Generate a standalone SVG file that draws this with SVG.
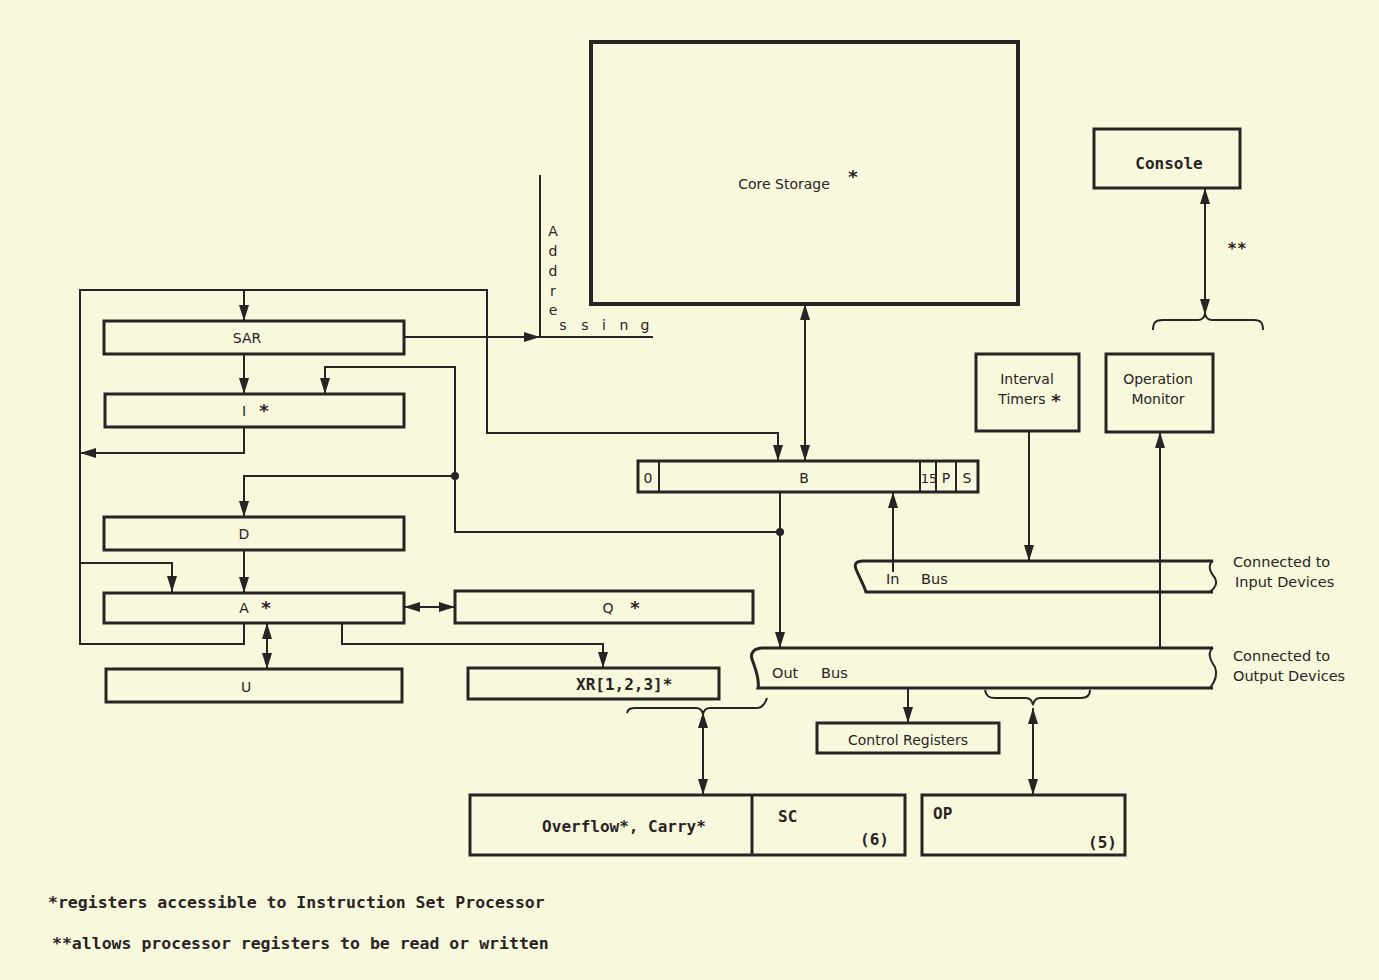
<svg xmlns="http://www.w3.org/2000/svg" width="1379" height="980" viewBox="0 0 1379 980">
<style>
.box{fill:none;stroke:#2a2326;stroke-width:3}
.thick{fill:none;stroke:#2a2326;stroke-width:4}
.ln{fill:none;stroke:#2a2326;stroke-width:2}
.lbl{font-family:"DejaVu Sans",sans-serif;font-size:14px;fill:#2a2326;text-anchor:middle}
.lbl-l{font-family:"DejaVu Sans",sans-serif;font-size:14.5px;fill:#2a2326}
.star{font-family:"DejaVu Sans",sans-serif;font-size:18px;font-weight:bold;fill:#2a2326;text-anchor:middle}
.mono{font-family:"DejaVu Sans Mono","Liberation Mono",monospace;font-size:16px;font-weight:bold;fill:#2a2326}
.foot{font-family:"DejaVu Sans Mono","Liberation Mono",monospace;font-size:16.5px;font-weight:bold;fill:#2a2326}
</style>
<defs>
<marker id="ah" viewBox="0 0 16 10" refX="16" refY="5" markerWidth="16" markerHeight="10" markerUnits="userSpaceOnUse" orient="auto-start-reverse">
<path d="M0,0 L16,5 L0,10 z" fill="#2a2326"/>
</marker>
</defs>
<rect x="0" y="0" width="1379" height="980" fill="#f8f8dc"/>

<g id="connectors">
<path class="ln" d="M244,623 V644 H80 V290 H487 V433 H778 V461" marker-end="url(#ah)"/>
<path class="ln" d="M244,290 V321" marker-end="url(#ah)"/>
<path class="ln" d="M80,563 H172 V592" marker-end="url(#ah)"/>
<path class="ln" d="M244,354 V394" marker-end="url(#ah)"/>
<path class="ln" d="M244,427 V453 H80" marker-end="url(#ah)"/>
<path class="ln" d="M780,532 H455 V367 H325 V394" marker-end="url(#ah)"/>
<path class="ln" d="M455,476 H244 V517" marker-end="url(#ah)"/>
<circle cx="455" cy="476" r="4" fill="#2a2326"/>
<circle cx="780" cy="532" r="4" fill="#2a2326"/>
<path class="ln" d="M244,550 V593" marker-end="url(#ah)"/>
<path class="ln" d="M404,607 H455" marker-start="url(#ah)" marker-end="url(#ah)"/>
<path class="ln" d="M267,623 V669" marker-start="url(#ah)" marker-end="url(#ah)"/>
<path class="ln" d="M342,623 V644 H603 V668" marker-end="url(#ah)"/>
<path class="ln" d="M404,337 H540" marker-end="url(#ah)"/>
<path class="ln" d="M540,175 V337 H653"/>
<path class="ln" d="M805,304 V461" marker-start="url(#ah)" marker-end="url(#ah)"/>
<path class="ln" d="M780,492 V648" marker-end="url(#ah)"/>
<path class="ln" d="M893,572 V492" marker-end="url(#ah)"/>
<path class="ln" d="M1029,431 V561" marker-end="url(#ah)"/>
<path class="ln" d="M1160,648 V432" marker-end="url(#ah)"/>
<path class="ln" d="M1205,188 V315" marker-start="url(#ah)" marker-end="url(#ah)"/>
<path class="ln" d="M908,688 V723" marker-end="url(#ah)"/>
<path class="ln" d="M1033,708 V795" marker-start="url(#ah)" marker-end="url(#ah)"/>
<path class="ln" d="M703,712 V795" marker-start="url(#ah)" marker-end="url(#ah)"/>
<path class="ln" d="M1153,330 C1153,322 1156,320 1163,320 H1198 C1202,320 1204,318 1205,314 C1206,318 1208,320 1212,320 H1254 C1261,320 1263,323 1263,330"/>
<path class="ln" d="M985,690 C986,696 989,698 995,698 H1026 C1030,698 1032,700 1033,705 C1034,700 1036,698 1040,698 H1081 C1087,698 1090,695 1090,690"/>
<path class="ln" d="M627,713 C628,709 630,708 636,708 H696 C700,708 702,710 703,714 C704,710 706,708 710,708 H757 C762,708 765,704 767,698"/>
</g>

<g id="core-storage">
<rect class="thick" x="591" y="42" width="427" height="262"/>
<text class="lbl" x="784" y="189">Core Storage</text>
<text class="star" x="853" y="183">*</text>
</g>

<g id="addressing">
<text class="lbl" x="553" y="236">A</text>
<text class="lbl" x="553" y="256">d</text>
<text class="lbl" x="553" y="276">d</text>
<text class="lbl" x="553" y="296">r</text>
<text class="lbl" x="553" y="315">e</text>
<text class="lbl" x="563" y="330">s</text>
<text class="lbl" x="585" y="330">s</text>
<text class="lbl" x="604" y="330">i</text>
<text class="lbl" x="624" y="330">n</text>
<text class="lbl" x="645" y="330">g</text>
</g>

<g id="sar">
<rect class="box" x="104" y="321" width="300" height="33"/>
<text class="lbl" x="247" y="343">SAR</text>
</g>
<g id="i-reg">
<rect class="box" x="105" y="394" width="299" height="33"/>
<text class="lbl" x="244" y="416">I</text>
<text class="star" x="264" y="417">*</text>
</g>
<g id="d-reg">
<rect class="box" x="104" y="517" width="300" height="33"/>
<text class="lbl" x="244" y="539">D</text>
</g>
<g id="a-reg">
<rect class="box" x="104" y="593" width="300" height="30"/>
<text class="lbl" x="244" y="613">A</text>
<text class="star" x="266" y="614">*</text>
</g>
<g id="u-reg">
<rect class="box" x="106" y="669" width="296" height="33"/>
<text class="lbl" x="246" y="692">U</text>
</g>
<g id="q-reg">
<rect class="box" x="455" y="591" width="298" height="32"/>
<text class="lbl" x="608" y="613">Q</text>
<text class="star" x="635" y="614">*</text>
</g>
<g id="xr-reg">
<rect class="box" x="468" y="668" width="251" height="31"/>
<text class="mono" x="576" y="690">XR[1,2,3]*</text>
</g>

<g id="b-reg">
<rect class="box" x="638" y="461" width="340" height="31"/>
<line class="ln" x1="659" y1="461" x2="659" y2="492"/>
<line class="ln" x1="920" y1="461" x2="920" y2="492"/>
<line class="ln" x1="936" y1="461" x2="936" y2="492"/>
<line class="ln" x1="956" y1="461" x2="956" y2="492"/>
<text class="lbl" x="648" y="483">0</text>
<text class="lbl" x="804" y="483">B</text>
<text class="lbl" x="929" y="483" style="font-size:13px">15</text>
<text class="lbl" x="946" y="483">P</text>
<text class="lbl" x="967" y="483">S</text>
</g>

<g id="in-bus">
<path class="box" d="M1213,561 H863 C856,561 854,564 856,569 C859,577 864,585 866,592 H1213"/>
<path class="ln" d="M1213,561 C1207,565 1210,572 1215,578 C1218,584 1214,589 1210,592"/>
<text class="lbl-l" x="886" y="584">In</text>
<text class="lbl-l" x="921" y="584">Bus</text>
</g>
<g id="out-bus">
<path class="box" d="M1213,648 H763 C754,648 750,653 752,659 C755,668 760,679 758,688 H1213"/>
<path class="ln" d="M1213,648 C1207,652 1210,660 1215,667 C1218,675 1214,683 1210,688"/>
<text class="lbl-l" x="772" y="678">Out</text>
<text class="lbl-l" x="821" y="678">Bus</text>
</g>
<g id="in-label">
<text class="lbl-l" x="1233" y="567">Connected to</text>
<text class="lbl-l" x="1235" y="587">Input Devices</text>
</g>
<g id="out-label">
<text class="lbl-l" x="1233" y="661">Connected to</text>
<text class="lbl-l" x="1233" y="681">Output Devices</text>
</g>

<g id="interval-timers">
<rect class="box" x="976" y="354" width="103" height="77"/>
<text class="lbl" x="1027" y="384">Interval</text>
<text class="lbl" x="1022" y="404">Timers</text>
<text class="star" x="1056" y="407">*</text>
</g>
<g id="operation-monitor">
<rect class="box" x="1106" y="354" width="107" height="78"/>
<text class="lbl" x="1158" y="384">Operation</text>
<text class="lbl" x="1158" y="404">Monitor</text>
</g>
<g id="console">
<rect class="box" x="1094" y="129" width="146" height="59"/>
<text class="mono" x="1169" y="169" text-anchor="middle">Console</text>
<text class="mono" x="1237" y="254" text-anchor="middle">**</text>
</g>

<g id="control-registers">
<rect class="box" x="817" y="723" width="182" height="30"/>
<text class="lbl" x="908" y="745">Control Registers</text>
</g>

<g id="overflow-sc">
<rect class="box" x="470" y="795" width="435" height="60"/>
<line class="box" x1="752" y1="795" x2="752" y2="855"/>
<text class="mono" x="624" y="832" text-anchor="middle">Overflow*, Carry*</text>
<text class="mono" x="778" y="822">SC</text>
<text class="mono" x="860" y="845">(6)</text>
</g>
<g id="op">
<rect class="box" x="922" y="795" width="203" height="60"/>
<text class="mono" x="933" y="819">OP</text>
<text class="mono" x="1088" y="848">(5)</text>
</g>

<g id="footnotes">
<text class="foot" x="48" y="908">*registers accessible to Instruction Set Processor</text>
<text class="foot" x="52" y="949">**allows processor registers to be read or written</text>
</g>
</svg>
